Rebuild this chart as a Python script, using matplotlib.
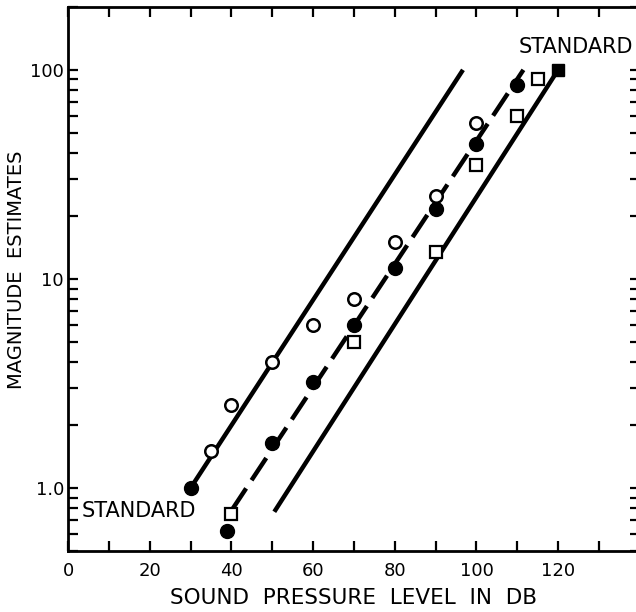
import numpy as np
import matplotlib
matplotlib.use('Agg')
import matplotlib.pyplot as plt
from matplotlib.ticker import FixedLocator, LogLocator, NullFormatter

# loudness judgements against sound pressure level
open_db = [35, 40, 50, 60, 70, 80, 90, 100]
open_est = [1.5, 2.5, 4.0, 6.0, 8.0, 15, 25, 56]

filled_db = [30, 39, 50, 60, 70, 80, 90, 100, 110]
filled_est = [1.0, 0.62, 1.65, 3.2, 6.0, 11.3, 21.5, 44, 85]

square_db = [40, 70, 90, 100, 110, 115]
square_est = [0.75, 5.0, 13.5, 35, 60, 90]

std_db = [120]
std_est = [100]

# fitted lines (end points)
left_db, left_est = [30, 96.7], [1.0, 100]
mid_db, mid_est = [40, 111.5], [0.78, 100]
right_db, right_est = [50.5, 120], [0.77, 100]

xticks = [0, 20, 40, 60, 80, 100, 120]
yticks = [1, 10, 100]
ytick_labels = ['1.0', '10', '100']

fig = plt.figure(figsize=(6.36, 6.12), dpi=100)
ax = fig.add_axes([0.107, 0.0997, 0.899, 0.889])

ax.plot(left_db, left_est, color='black', lw=3.2, solid_capstyle='butt')
ax.plot(mid_db, mid_est, color='black', lw=3.2, dashes=(6, 2.2), dash_capstyle='butt')
ax.plot(right_db, right_est, color='black', lw=3.2, solid_capstyle='butt')

ax.plot(open_db, open_est, 'o', ms=9, mfc='white', mec='black', mew=1.8, zorder=3)
ax.plot(filled_db, filled_est, 'o', ms=10, mfc='black', mec='black', zorder=3)
ax.plot(square_db, square_est, 's', ms=9, mfc='white', mec='black', mew=1.6, zorder=3)
ax.plot(std_db, std_est, 's', ms=9, mfc='black', mec='black', zorder=3)

ax.set_yscale('log')
ax.set_xlim(0, 140)
ax.set_ylim(0.5, 200)

ax.xaxis.set_major_locator(FixedLocator(xticks))
ax.xaxis.set_minor_locator(FixedLocator(np.arange(10, 140, 10)))
ax.set_xticklabels([str(v) for v in xticks])
ax.yaxis.set_major_locator(FixedLocator(yticks))
ax.yaxis.set_minor_locator(LogLocator(base=10, subs=np.arange(2, 10)))
ax.yaxis.set_minor_formatter(NullFormatter())
ax.set_yticklabels(ytick_labels)

ax.tick_params(which='both', direction='in', top=True, right=True,
               length=7, width=1.6, labelsize=13)
ax.tick_params(axis='x', pad=8)
ax.tick_params(axis='y', pad=3)
for s in ax.spines.values():
    s.set_linewidth(2)

ax.set_xlabel('SOUND  PRESSURE  LEVEL  IN  DB', fontsize=15.5)
ax.xaxis.set_label_coords(0.5, -0.068)
ax.set_ylabel('MAGNITUDE  ESTIMATES', fontsize=14)
ax.yaxis.set_label_coords(-0.074, 0.517)

ax.text(3.4, 0.78, 'STANDARD', fontsize=15, va='center', ha='left')
ax.text(138.3, 128, 'STANDARD', fontsize=15, va='center', ha='right')

fig.savefig('out.png', dpi=100)
